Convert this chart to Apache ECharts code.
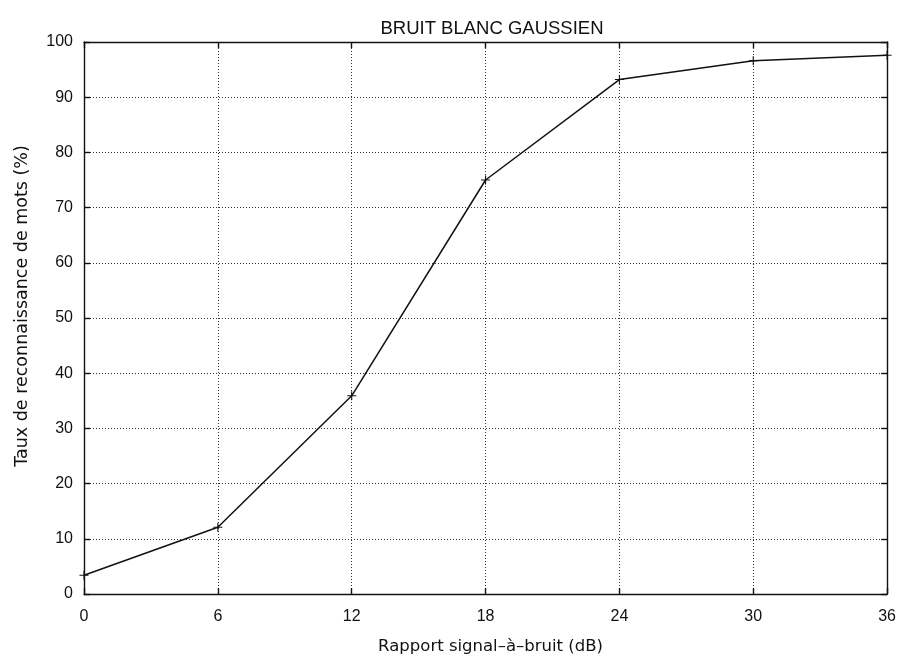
<!DOCTYPE html>
<html>
<head>
<meta charset="utf-8">
<script src="https://cdn.jsdelivr.net/npm/echarts@6/dist/echarts.min.js"></script>
<style>
  html, body { margin: 0; padding: 0; background: #fff; }
  #chart { width: 899px; height: 660px; }
</style>
</head>
<body>
<div id="chart"></div>
<script>
// Taux de reconnaissance vs SNR, bruit blanc gaussien
const snr = [0, 6, 12, 18, 24, 30, 36];
const taux = [3.4, 12.1, 35.9, 75.0, 93.2, 96.6, 97.6];
const xTicks = [0, 6, 12, 18, 24, 30, 36];

const FONT = 'Liberation Sans, Arial, sans-serif';
const WIDE = 'DejaVu Sans, sans-serif';
const INK = '#111';

const plus = 'path://M4.4,0H5.6V4.4H10V5.6H5.6V10H4.4V5.6H0V4.4H4.4Z';

function axisBase(extra) {
  return Object.assign({
    axisLine: { show: true, onZero: false, lineStyle: { color: INK, width: 1.4 } },
    axisTick: { show: true, inside: true, length: 6, lineStyle: { color: INK, width: 1.4 } },
    splitLine: { show: false },
  }, extra);
}

const chart = echarts.init(document.getElementById('chart'), null, { renderer: 'canvas' });
chart.setOption({
  animation: false,
  backgroundColor: '#fff',
  title: {
    text: 'BRUIT BLANC GAUSSIEN',
    left: 487, top: 14, textAlign: 'center',
    textStyle: { fontFamily: FONT, fontSize: 18.5, fontWeight: 'normal', color: INK },
  },
  grid: { left: 84, right: 11, top: 42, bottom: 65, containLabel: false },
  xAxis: [
    axisBase({
      type: 'value', min: 0, max: 36, interval: 6, position: 'bottom',
      name: 'Rapport signal\u2013\u00e0\u2013bruit (dB)', nameLocation: 'middle', nameGap: 44,
      nameTextStyle: { fontFamily: WIDE, fontSize: 16.5, color: INK, padding: [0, 0, 0, 10] },
      axisLabel: { fontFamily: FONT, fontSize: 16, color: INK, margin: 15,
        formatter: v => xTicks.includes(v) ? String(v) : '' },
      splitLine: { show: true, lineStyle: { color: '#333', type: [1, 2], width: 1 } },
    }),
    axisBase({ type: 'value', min: 0, max: 36, interval: 6, position: 'top', axisLabel: { show: false } }),
  ],
  yAxis: [
    axisBase({
      type: 'value', min: 0, max: 100, interval: 10, position: 'left',
      name: 'Taux de reconnaissance de mots (%)', nameLocation: 'middle', nameGap: 53,
      nameTextStyle: { fontFamily: WIDE, fontSize: 17.5, color: INK, padding: [0, 0, 0, 24] },
      axisLabel: { fontFamily: FONT, fontSize: 16, color: INK, margin: 11 },
      splitLine: { show: true, lineStyle: { color: '#333', type: [1, 2], width: 1 } },
    }),
    axisBase({ type: 'value', min: 0, max: 100, interval: 10, position: 'right', axisLabel: { show: false } }),
  ],
  series: [{
    type: 'line',
    data: snr.map((x, i) => [x, taux[i]]),
    symbol: plus,
    symbolSize: 9,
    showAllSymbol: true,
    clip: false,
    lineStyle: { color: INK, width: 1.5 },
    itemStyle: { color: INK },
  }],
});
</script>
</body>
</html>
